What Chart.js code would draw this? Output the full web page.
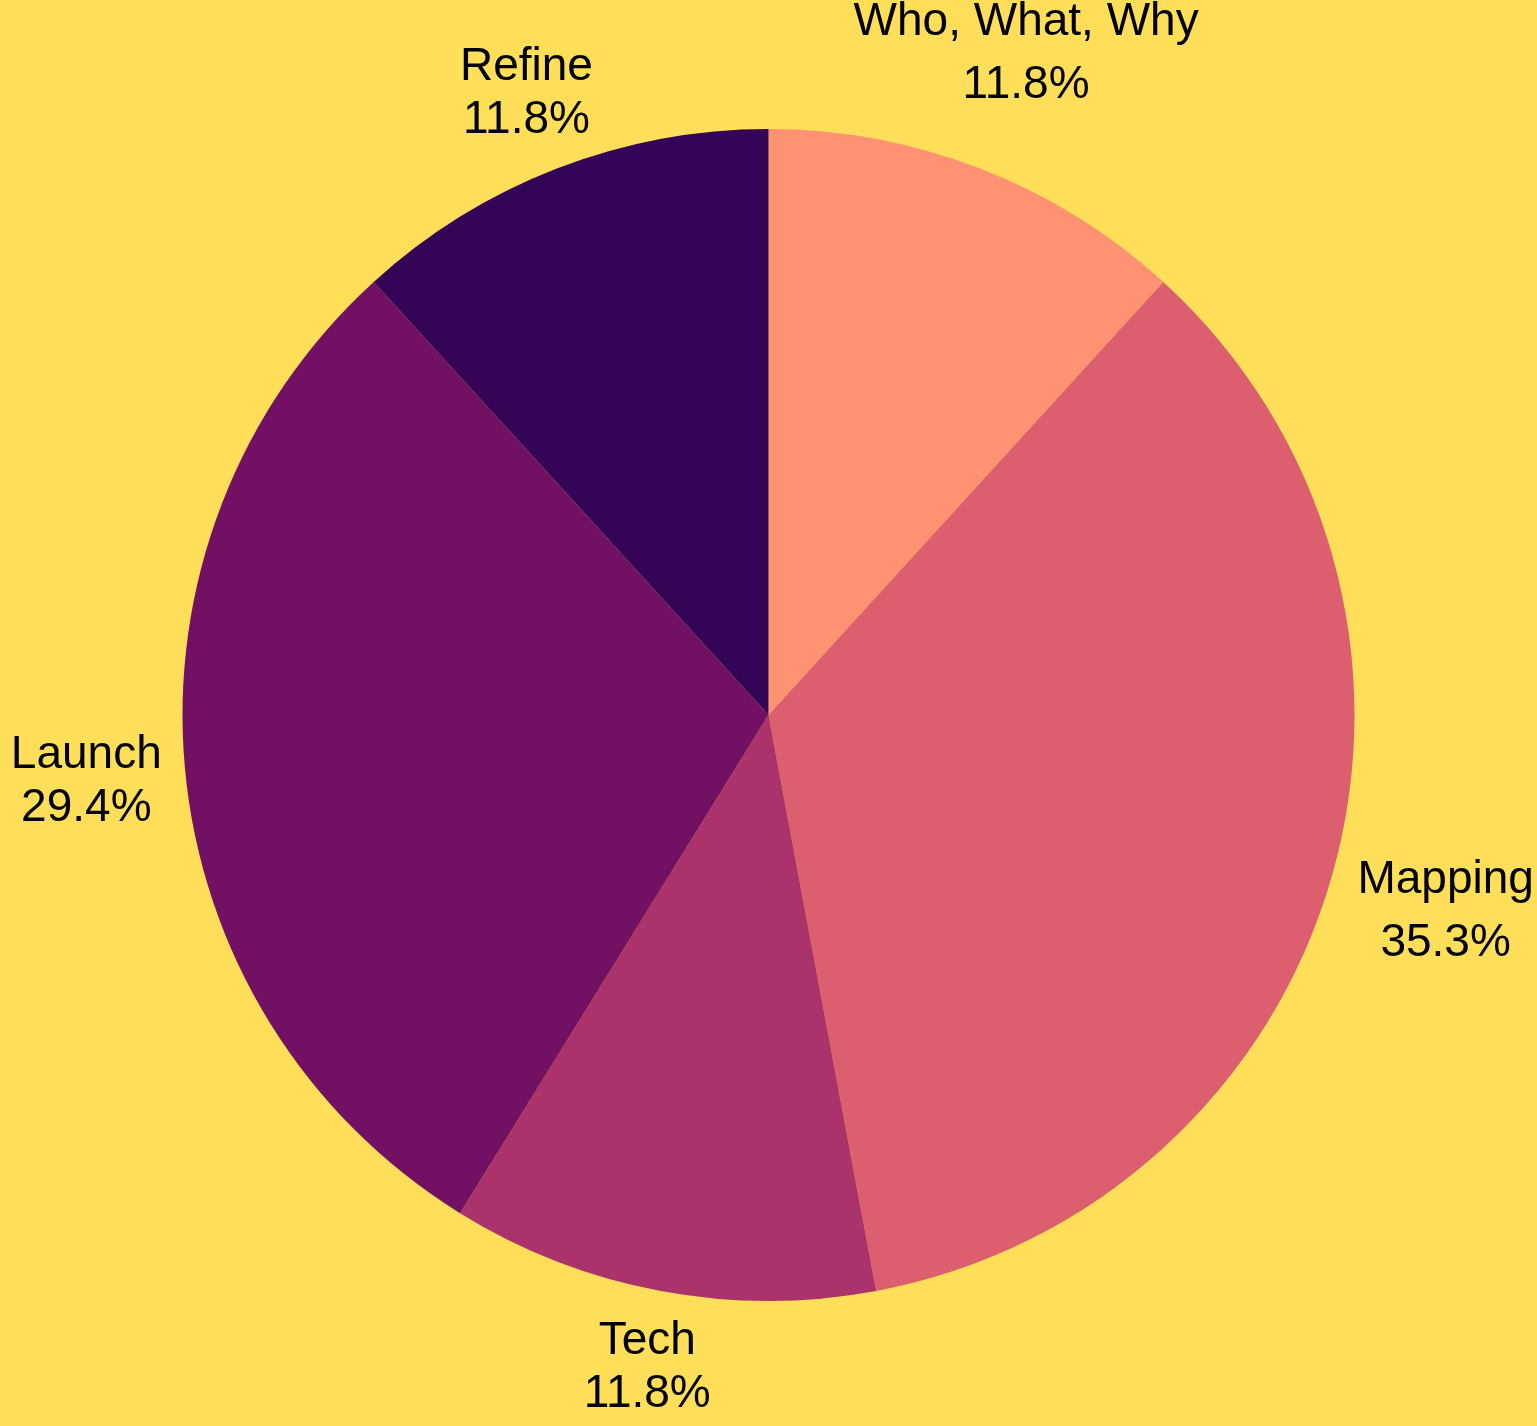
<!DOCTYPE html>
<html>
<head>
<meta charset="utf-8">
<script src="https://cdn.jsdelivr.net/npm/chart.js@4.4.1/dist/chart.umd.min.js"></script>
<style>
    html, body { margin: 0; padding: 0; background: #FFDE59; }
    #wrap { width: 1537px; height: 1426px; position: relative; }
</style>
</head>
<body>
<div id="wrap"><canvas id="chart"></canvas></div>
<script>
// Dados do gráfico
const labels = ['Who, What, Why', 'Mapping', 'Tech', 'Launch', 'Refine'];
const values = [2, 6, 2, 5, 2];
const colors = ['#FE9273', '#DB5F6F', '#AB326A', '#721063', '#340556'];

// Plugin para rótulos externos (nome + percentual)
const outerLabels = {
    id: 'outerLabels',
    afterDraw(chart) {
        const ctx = chart.ctx;
        const meta = chart.getDatasetMeta(0);
        const data = chart.data.datasets[0].data;
        const total = data.reduce((a, b) => a + b, 0);
        const fs = 46;
        ctx.save();
        ctx.font = fs + 'px "Liberation Sans", Arial, sans-serif';
        ctx.fillStyle = '#000';
        ctx.textAlign = 'center';
        ctx.textBaseline = 'alphabetic';
        meta.data.forEach((arc, i) => {
            const p = arc.getProps(['x', 'y', 'startAngle', 'endAngle', 'outerRadius'], true);
            const mid = (p.startAngle + p.endAngle) / 2;
            const dx = Math.cos(mid), dy = Math.sin(mid);
            const lines = [chart.data.labels[i], (data[i] / total * 100).toFixed(1) + '%'];
            const w = Math.max(...lines.map(l => ctx.measureText(l).width));
            const desc = ctx.measureText(lines[0]).actualBoundingBoxDescent;
            const spacing = fs * 1.15 + desc;
            const cap = fs * 0.72;
            const h = spacing + cap;
            const support = (w / 2) * Math.abs(dx) + (h / 2) * Math.abs(dy);
            const dist = p.outerRadius + 20 + support;
            const cx = p.x + dx * dist;
            const cy = p.y + dy * dist;
            const top = cy - h / 2;
            ctx.fillText(lines[0], cx, top + cap);
            ctx.fillText(lines[1], cx, top + cap + spacing);
        });
        ctx.restore();
    }
};

new Chart(document.getElementById('chart'), {
    type: 'pie',
    data: {
        labels: labels,
        datasets: [{
            data: values,
            backgroundColor: colors,
            borderWidth: 0
        }]
    },
    options: {
        responsive: true,
        maintainAspectRatio: false,
        animation: false,
        layout: {
            padding: { top: 129, bottom: 125, left: 0, right: 0 }
        },
        plugins: {
            legend: { display: false },
            tooltip: { enabled: false }
        }
    },
    plugins: [outerLabels]
});
</script>
</body>
</html>
